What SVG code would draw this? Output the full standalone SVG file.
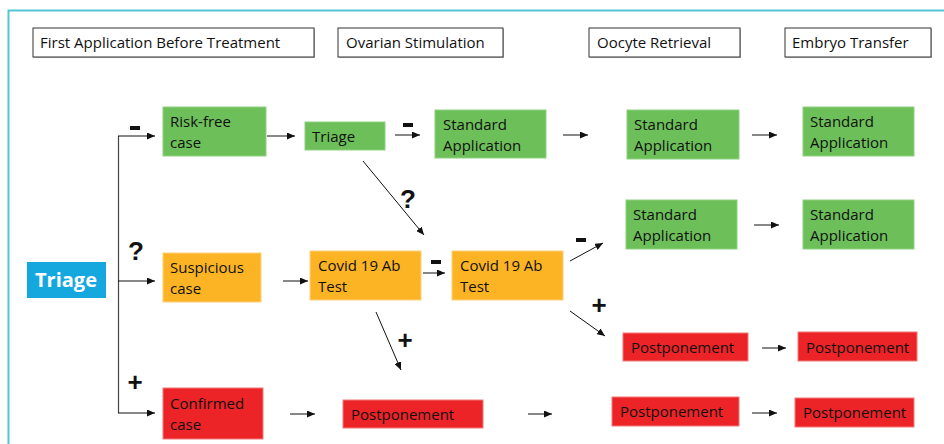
<svg xmlns="http://www.w3.org/2000/svg" width="944" height="444" viewBox="0 0 944 444">
<style>
  .t{font-family:"Open Sans","Liberation Sans",Arial,sans-serif;font-size:15px;fill:#111}
  .h{fill:#fff;stroke:#333;stroke-width:1}
  .hs{fill:#bbb}
  .g{fill:#6CBF59;stroke:#8fd07e;stroke-width:1}
  .o{fill:#FCB424;stroke:#fdd07a;stroke-width:1}
  .r{fill:#EC2327;stroke:#f27a7c;stroke-width:1}
  .c{stroke:#111;stroke-width:1;fill:none}
  .s{font-family:"Liberation Sans",Arial,sans-serif;font-weight:bold;fill:#111;font-size:26px}
</style>
<defs>
  <marker id="ah" markerUnits="userSpaceOnUse" markerWidth="8" markerHeight="7" refX="8" refY="3.5" orient="auto">
    <path d="M0,0 L8,3.5 L0,7 z" fill="#111"/>
  </marker>
</defs>
<rect x="0" y="0" width="944" height="444" fill="#fff"/>
<g id="frame">
  <path d="M8.5,444 V10.5 H944" fill="none" stroke="#55C5D6" stroke-width="2"/>
</g>
<g id="headers">
  <g id="h1"><rect class="hs" x="34" y="29" width="281" height="29"/><rect class="h" x="33" y="28" width="281" height="29"/><text class="t" x="40" y="48">First Application Before Treatment</text></g>
  <g id="h2"><rect class="hs" x="339" y="29" width="165" height="29"/><rect class="h" x="338" y="28" width="165" height="29"/><text class="t" x="346" y="48">Ovarian Stimulation</text></g>
  <g id="h3"><rect class="hs" x="590" y="29" width="151" height="29"/><rect class="h" x="589" y="28" width="151" height="29"/><text class="t" x="597" y="48">Oocyte Retrieval</text></g>
  <g id="h4"><rect class="hs" x="786" y="29" width="146" height="29"/><rect class="h" x="785" y="28" width="146" height="29"/><text class="t" x="792" y="48">Embryo Transfer</text></g>
</g>
<g id="triage-main"><rect x="27" y="262" width="79" height="36" fill="#15A8DF"/><text x="66" y="287" text-anchor="middle" font-family="Open Sans,Liberation Sans,Arial,sans-serif" font-weight="bold" font-size="20" fill="#fff">Triage</text></g>
<g id="riskfree"><rect class="g" x="163" y="107" width="103" height="49"/><text class="t" x="170" y="127">Risk-free</text><text class="t" x="170" y="148">case</text></g>
<g id="triage2"><rect class="g" x="305" y="122" width="80" height="28"/><text class="t" x="312" y="142">Triage</text></g>
<g id="std1"><rect class="g" x="435" y="110" width="111" height="48"/><text class="t" x="443" y="130">Standard</text><text class="t" x="443" y="151">Application</text></g>
<g id="std2"><rect class="g" x="627" y="110" width="112" height="49"/><text class="t" x="634" y="130">Standard</text><text class="t" x="634" y="151">Application</text></g>
<g id="std3"><rect class="g" x="803" y="107" width="111" height="49"/><text class="t" x="810" y="127">Standard</text><text class="t" x="810" y="148">Application</text></g>
<g id="suspicious"><rect class="o" x="163" y="253" width="98" height="49"/><text class="t" x="170" y="273">Suspicious</text><text class="t" x="170" y="294">case</text></g>
<g id="covid1"><rect class="o" x="310" y="251" width="111" height="49"/><text class="t" x="318" y="271">Covid 19 Ab</text><text class="t" x="318" y="292">Test</text></g>
<g id="covid2"><rect class="o" x="452" y="251" width="111" height="49"/><text class="t" x="460" y="271">Covid 19 Ab</text><text class="t" x="460" y="292">Test</text></g>
<g id="std4"><rect class="g" x="626" y="200" width="111" height="49"/><text class="t" x="633" y="220">Standard</text><text class="t" x="633" y="241">Application</text></g>
<g id="std5"><rect class="g" x="803" y="200" width="111" height="49"/><text class="t" x="810" y="220">Standard</text><text class="t" x="810" y="241">Application</text></g>
<g id="post1"><rect class="r" x="623" y="333" width="125" height="28"/><text class="t" x="631" y="353">Postponement</text></g>
<g id="post2"><rect class="r" x="798" y="332" width="119" height="29"/><text class="t" x="806" y="353">Postponement</text></g>
<g id="confirmed"><rect class="r" x="163" y="388" width="100" height="51"/><text class="t" x="170" y="409">Confirmed</text><text class="t" x="170" y="430">case</text></g>
<g id="post3"><rect class="r" x="343" y="400" width="140" height="28"/><text class="t" x="351" y="420">Postponement</text></g>
<g id="post4"><rect class="r" x="612" y="397" width="127" height="29"/><text class="t" x="620" y="417">Postponement</text></g>
<g id="post5"><rect class="r" x="795" y="398" width="119" height="29"/><text class="t" x="803" y="418">Postponement</text></g>
<g id="connectors">
  <path d="M118.5,136 V413" stroke="#444" stroke-width="1.2" fill="none"/>
  <line class="c" x1="118" y1="136" x2="155" y2="136" marker-end="url(#ah)"/>
  <line class="c" x1="118" y1="281" x2="155" y2="281" marker-end="url(#ah)"/>
  <line class="c" x1="118" y1="413" x2="155" y2="413" marker-end="url(#ah)"/>
  <line class="c" x1="267" y1="136" x2="295" y2="136" marker-end="url(#ah)"/>
  <line class="c" x1="395" y1="135" x2="420" y2="135" marker-end="url(#ah)"/>
  <line class="c" x1="563" y1="135" x2="588" y2="135" marker-end="url(#ah)"/>
  <line class="c" x1="752" y1="135" x2="777" y2="135" marker-end="url(#ah)"/>
  <line class="c" x1="363" y1="161" x2="424" y2="235" marker-end="url(#ah)"/>
  <line class="c" x1="283" y1="281" x2="308" y2="281" marker-end="url(#ah)"/>
  <line class="c" x1="423" y1="273" x2="445" y2="273" marker-end="url(#ah)"/>
  <line class="c" x1="570" y1="261" x2="603" y2="243" marker-end="url(#ah)"/>
  <line class="c" x1="754" y1="225" x2="779" y2="225" marker-end="url(#ah)"/>
  <line class="c" x1="570" y1="311" x2="605" y2="336" marker-end="url(#ah)"/>
  <line class="c" x1="762" y1="348" x2="786" y2="348" marker-end="url(#ah)"/>
  <line class="c" x1="376" y1="312" x2="401" y2="370" marker-end="url(#ah)"/>
  <line class="c" x1="290" y1="414" x2="315" y2="414" marker-end="url(#ah)"/>
  <line class="c" x1="528" y1="414" x2="552" y2="414" marker-end="url(#ah)"/>
  <line class="c" x1="752" y1="413" x2="777" y2="413" marker-end="url(#ah)"/>
  <rect x="130" y="126" width="10" height="4" fill="#111"/>
  <text class="s" x="136" y="260" text-anchor="middle">?</text>
  <text class="s" x="135" y="391" text-anchor="middle">+</text>
  <rect x="403" y="123" width="10" height="4" fill="#111"/>
  <text class="s" x="408" y="208" text-anchor="middle">?</text>
  <rect x="431" y="260" width="10" height="4" fill="#111"/>
  <rect x="576" y="238" width="10" height="4" fill="#111"/>
  <text class="s" x="599" y="314" text-anchor="middle">+</text>
  <text class="s" x="405" y="349" text-anchor="middle">+</text>
</g>
</svg>
